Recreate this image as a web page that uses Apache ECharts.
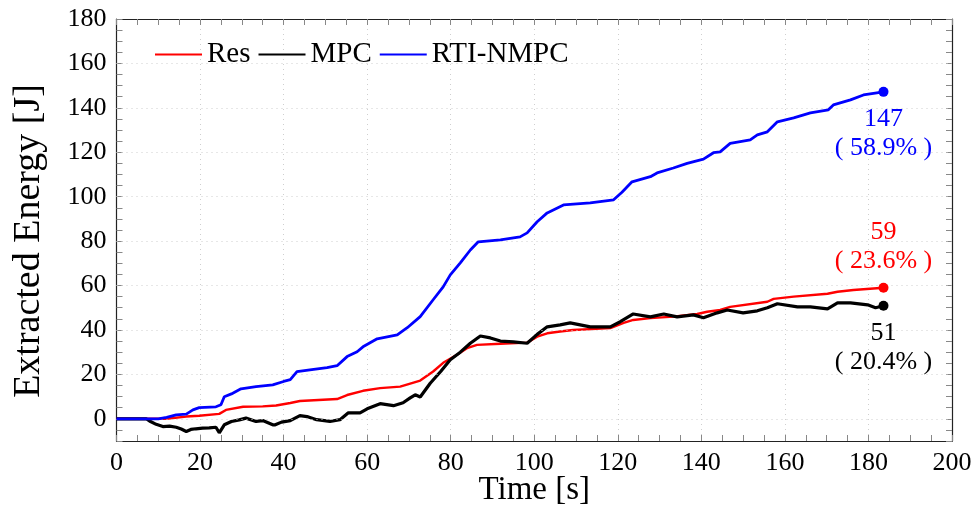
<!DOCTYPE html>
<html>
<head>
<meta charset="utf-8">
<script src="https://cdn.jsdelivr.net/npm/echarts@6/dist/echarts.min.js"></script>
<style>html,body{margin:0;padding:0;background:#fff}#c{width:975px;height:508px}</style>
</head>
<body>
<div id="c"></div>
<script>
// ---- data ----
const seriesNames = ['Res', 'MPC', 'RTI-NMPC'];
const xTicks = [0, 20, 40, 60, 80, 100, 120, 140, 160, 180, 200];
const yTicks = [0, 20, 40, 60, 80, 100, 120, 140, 160, 180];

const resT = [0, 11.9, 16.7, 19.8, 24.6, 26.2, 30.3, 35, 38.2, 41.6, 43.9, 52.8, 55.2, 59, 63.1, 67.9, 72.7, 75.8, 78.2, 81.5, 83.9, 86.3, 91.9, 98.3, 100.7, 103.1, 106.2, 109.3, 118.2, 121.4, 123.7, 127.8, 133.3, 139, 141.4, 144.5, 146.9, 155.8, 157.3, 162.1, 170.2, 172.6, 176.4, 183.6];
const resV = [0, 0, 1, 1.4, 2.2, 4, 5.4, 5.6, 6, 7.1, 8, 8.9, 10.7, 12.6, 13.8, 14.5, 17.2, 21.3, 25.2, 28.8, 31.8, 33.3, 33.8, 34.3, 37, 38.5, 39.3, 40, 40.8, 43.2, 44.5, 45.3, 46, 47.2, 48.2, 49, 50.4, 52.7, 54, 55, 56.3, 57.2, 58, 59];

const mpcT = [0, 7.1, 7.9, 9.5, 11.1, 12.7, 14.3, 15.5, 16.7, 17.8, 19, 20.6, 22.2, 23.8, 24.6, 25.2, 25.8, 27.5, 29.4, 31, 33.4, 35, 37.4, 38, 39.5, 41.6, 43.9, 45.6, 47.9, 51.1, 53.5, 55.5, 58.3, 60, 63.1, 66.3, 68.6, 70.3, 71.5, 72.7, 75.1, 77.6, 79.9, 82.3, 84.7, 87.1, 89.5, 91.9, 95, 98.3, 100.7, 103.1, 106.2, 108.6, 113.4, 118.2, 120.6, 123.7, 127.8, 131, 134.2, 138.1, 140.5, 143.8, 146.2, 150, 153.4, 155.8, 158.2, 163, 166.1, 170.2, 172.6, 175.7, 179.8, 181.7, 183.6];
const mpcV = [0, 0, -1, -2.5, -3.5, -3.3, -3.8, -4.6, -5.7, -4.8, -4.5, -4.2, -4.1, -3.8, -6.3, -4.5, -2.7, -1.2, -0.5, 0.3, -1.2, -0.8, -2.7, -2.7, -1.5, -0.8, 1.4, 1, -0.4, -1.2, -0.4, 2.7, 2.7, 4.5, 6.8, 5.9, 7.2, 9.4, 10.8, 9.8, 16, 21.3, 26.6, 30, 34, 37.3, 36.4, 35, 34.6, 34, 38, 41.4, 42.3, 43.2, 41.4, 41.4, 43.7, 47.2, 45.9, 47.2, 45.9, 46.8, 45.5, 47.7, 49, 47.7, 48.6, 50, 51.8, 50.4, 50.4, 49.5, 52.2, 52.2, 51.3, 50, 50.9];

const rtiT = [0, 10, 12, 14.3, 16.7, 18.3, 19.8, 23.8, 25, 25.8, 27.5, 29.8, 33.4, 37.4, 40, 41.6, 43.2, 46.3, 50.4, 52.8, 55.2, 57.6, 59, 62.4, 67.2, 69.6, 72.7, 75.8, 78.2, 79.9, 82.3, 84.7, 86.6, 91.9, 96.6, 98.3, 100.7, 103.1, 107, 113.4, 119, 121, 123.4, 127.8, 129.4, 133.3, 136.6, 140.5, 142.9, 144.5, 146.9, 151.7, 153.4, 155.8, 158.2, 162.1, 166.1, 170.4, 171.6, 175.7, 178.8, 183.6];
const rtiV = [0, 0, 0.6, 1.8, 2.1, 4, 5, 5.4, 6.3, 9.9, 11.2, 13.5, 14.5, 15.3, 16.8, 17.6, 21.2, 22, 23, 23.9, 28, 30.2, 32.4, 36, 37.8, 41, 46, 53.6, 59.4, 64.8, 70.2, 76, 79.7, 80.6, 81.9, 83.7, 88.7, 92.7, 96.3, 97.2, 98.6, 102, 106.7, 109, 110.7, 112.9, 115, 116.9, 119.8, 120.2, 124, 125.6, 127.8, 129.2, 133.7, 135.5, 137.7, 139.1, 141.3, 143.6, 145.8, 147.2];

const endValues = ['59', '51', '147'];
const endPercents = ['23.6%', '20.4%', '58.9%'];

// ---- chart ----
const FONT = 'Liberation Serif';
const colors = ['#ff0000', '#000000', '#0000ff'];
const widths = [2.4, 3.2, 2.8];
const labelPos = ['top', 'bottom', 'bottom'];
const labelDist = [7, 8, 8];
const Ts = [resT, mpcT, rtiT];
const Vs = [resV, mpcV, rtiV];

const chart = echarts.init(document.getElementById('c'), null, {renderer: 'canvas'});

function zip(t, v) { return t.map((x, i) => [x, v[i]]); }

const tickStyle = {show: true, inside: true, length: 6, lineStyle: {color: '#888', width: 1}};
function minorStyle(n) { return {show: true, splitNumber: n, length: 6, lineStyle: {color: '#888', width: 1}}; }
const gridLine = {color: '#cfcfcf', type: [1, 4], width: 1};

function mkX(pos, labels) {
  return {
    type: 'value', position: pos, min: 0, max: 200, interval: 20,
    name: labels ? 'Time [s]' : '', nameLocation: 'middle', nameGap: 33, nameMoveOverlap: false,
    nameTextStyle: {fontFamily: FONT, fontSize: 33, color: '#000'},
    axisLine: {show: true, onZero: false, lineStyle: {color: '#222', width: 1.2}},
    axisTick: tickStyle, minorTick: minorStyle(4),
    axisLabel: {show: labels, fontFamily: FONT, fontSize: 26, color: '#000', margin: 9,
      formatter: v => xTicks.includes(v) ? String(v) : ''},
    splitLine: {show: labels, lineStyle: gridLine},
    minorSplitLine: {show: false}
  };
}
function mkY(pos, labels) {
  return {
    type: 'value', position: pos, min: -10, max: 180, interval: 10,
    name: labels ? 'Extracted Energy [J]' : '', nameLocation: 'middle', nameGap: 68, nameMoveOverlap: false,
    nameTextStyle: {fontFamily: FONT, fontSize: 38, color: '#000', padding: [0, 22, 0, 0]},
    axisLine: {show: true, onZero: false, lineStyle: {color: '#222', width: 1.2}},
    axisTick: tickStyle, minorTick: minorStyle(2),
    axisLabel: {show: labels, fontFamily: FONT, fontSize: 26, color: '#000', margin: 10,
      formatter: v => yTicks.includes(v) ? String(v) : ''},
    splitLine: {show: false},
    minorSplitLine: {show: false}
  };
}

const series = seriesNames.map((name, i) => {
  const t = Ts[i], v = Vs[i];
  const n = t.length - 1;
  return {
    name: name, type: 'line', data: zip(t, v), symbol: 'none', xAxisIndex: 0, yAxisIndex: 0,
    lineStyle: {color: colors[i], width: widths[i]}, itemStyle: {color: colors[i]},
    z: 3 + i,
    markPoint: {
      symbol: 'circle', symbolSize: 10, silent: true,
      itemStyle: {color: colors[i]},
      label: {
        show: true, position: labelPos[i], distance: labelDist[i],
        fontFamily: FONT, fontSize: 26, lineHeight: 29, color: colors[i], align: 'center',
        formatter: () => endValues[i] + '\n( ' + endPercents[i] + ' )'
      },
      data: [{coord: [t[n], v[n]]}]
    }
  };
});

// horizontal dotted grid lines at the labelled y ticks
series.unshift({
  name: 'grid', type: 'line', data: [], z: 1, silent: true,
  markLine: {
    silent: true, symbol: ['none', 'none'], label: {show: false},
    lineStyle: gridLine, animation: false,
    data: yTicks.filter(v => v < 180).map(v => ({yAxis: v}))
  }
});

chart.setOption({
  animation: false,
  backgroundColor: '#fff',
  grid: {left: 116.5, right: 23, top: 19, bottom: 67, containLabel: false, outerBoundsMode: 'none'},
  legend: {
    data: seriesNames, left: 150, top: 35, orient: 'horizontal',
    itemWidth: 47, itemHeight: 14, itemGap: 8,
    textStyle: {fontFamily: FONT, fontSize: 29, color: '#000'},
    icon: 'path://M0,6 L47,6 L47,8 L0,8 Z'
  },
  xAxis: [mkX('bottom', true), mkX('top', false)],
  yAxis: [mkY('left', true), mkY('right', false)],
  series: series
});
</script>
</body>
</html>
